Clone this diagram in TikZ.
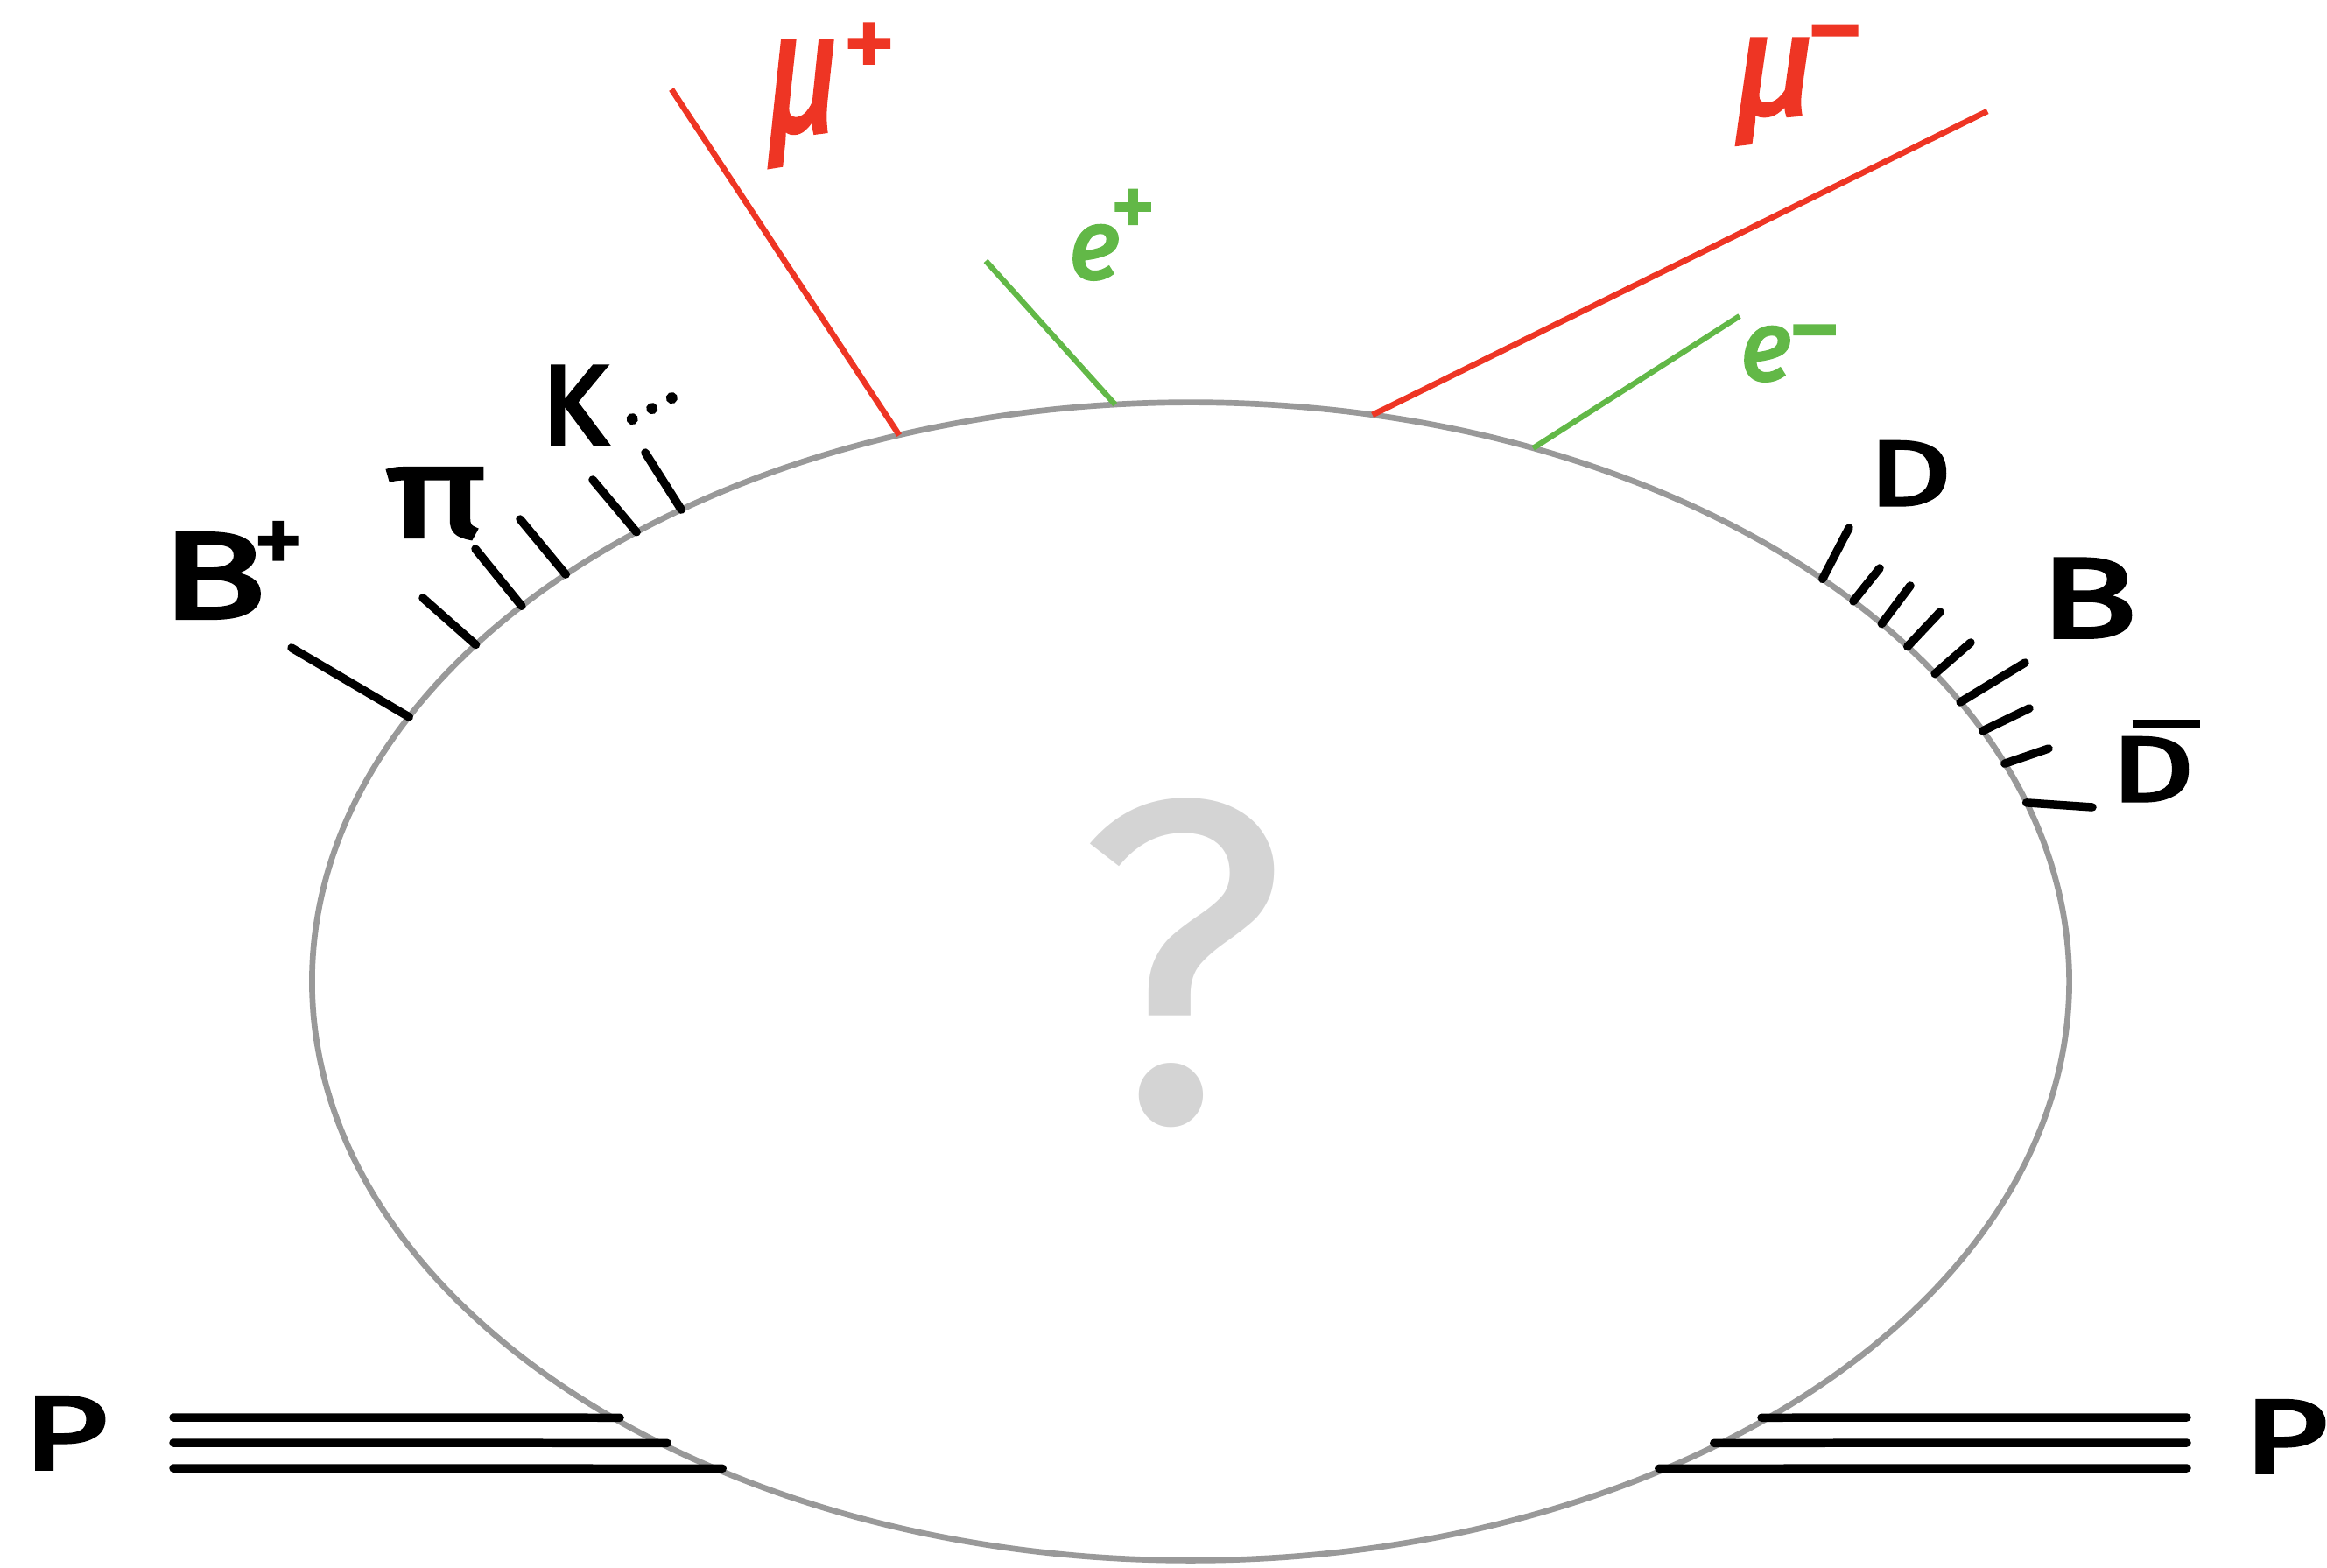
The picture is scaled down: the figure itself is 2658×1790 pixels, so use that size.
\documentclass[tikz,border=0pt]{standalone}
\usepackage{fontspec}
\setmainfont{Fira Sans}
\newfontfamily\handfont{Fira Sans}[FakeBold=3]
\usepackage{graphicx}
\usetikzlibrary{shapes.geometric}
\definecolor{rim}{HTML}{999999}
\definecolor{mured}{HTML}{EE3524}
\definecolor{egreen}{HTML}{62B847}
\definecolor{qgray}{HTML}{D4D4D4}
\newcommand\fsz[1]{\fontsize{#1}{#1}\selectfont}
\newcommand\wideletter[1]{\scalebox{1.4}[1]{#1}}
\begin{document}
\begin{tikzpicture}[x=0.01cm,y=-0.01cm,
  lbl/.style={anchor=base west, inner sep=0pt, outer sep=0pt},
  blacktick/.style={line width=2.7pt, line cap=round, black},
  beam/.style={line width=2.7pt, line cap=round, black, shorten >=-0.08cm},
  redtrack/.style={line width=1.9pt, mured},
  greentrack/.style={line width=1.8pt, egreen},
  blobstyle/.style={ellipse, draw=rim, line width=1.9pt, minimum width=20.06cm,
    minimum height=13.22cm, inner sep=0pt, outer sep=0pt}]
\useasboundingbox (0,0) rectangle (2658,1790);

% central blob
\node[blobstyle] (blob) at (1360,1121) {};
\node[text=qgray, font=\fsz{150}] (qmark) at (1351,1100) {?};

% proton beams
\coordinate (pl1) at (198,1619);
\coordinate (pl2) at (198,1648);
\coordinate (pl3) at (198,1677);
\coordinate (pr1) at (2498,1619);
\coordinate (pr2) at (2498,1648);
\coordinate (pr3) at (2498,1677);
\draw[beam] (pl1) -- ([shift={(blob.center)}]228.88:10.03cm and 6.61cm);
\draw[beam] (pl2) -- ([shift={(blob.center)}]232.87:10.03cm and 6.61cm);
\draw[beam] (pl3) -- ([shift={(blob.center)}]237.26:10.03cm and 6.61cm);
\draw[beam] (pr1) -- ([shift={(blob.center)}]311.12:10.03cm and 6.61cm);
\draw[beam] (pr2) -- ([shift={(blob.center)}]307.13:10.03cm and 6.61cm);
\draw[beam] (pr3) -- ([shift={(blob.center)}]302.74:10.03cm and 6.61cm);
\node[lbl, font=\handfont\fsz{34}] (pleft) at (26,1678) {\wideletter{P}};
\node[lbl, font=\handfont\fsz{34}] (pright) at (2562,1682) {\wideletter{P}};

% left hadron ticks
\coordinate (lt1) at (333,740);
\coordinate (lt2) at (483,683);
\coordinate (lt3) at (543,627);
\coordinate (lt4) at (594,593);
\coordinate (lt5) at (677,548);
\coordinate (lt6) at (737,517);
\draw[blacktick] ([shift={(blob.center)}]152.82:10.03cm and 6.61cm) -- (lt1);
\draw[blacktick] ([shift={(blob.center)}]144.45:10.03cm and 6.61cm) -- (lt2);
\draw[blacktick] ([shift={(blob.center)}]139.59:10.03cm and 6.61cm) -- (lt3);
\draw[blacktick] ([shift={(blob.center)}]135.34:10.03cm and 6.61cm) -- (lt4);
\draw[blacktick] ([shift={(blob.center)}]129.10:10.03cm and 6.61cm) -- (lt5);
\draw[blacktick] ([shift={(blob.center)}]125.43:10.03cm and 6.61cm) -- (lt6);

% right hadron ticks
\coordinate (rt1) at (2112,603);
\coordinate (rt2) at (2147,649);
\coordinate (rt3) at (2182,669);
\coordinate (rt4) at (2216,699);
\coordinate (rt5) at (2251,734);
\coordinate (rt6) at (2313,757);
\coordinate (rt7) at (2318,809);
\coordinate (rt8) at (2340,855);
\coordinate (rt9) at (2390,922);
\draw[blacktick] ([shift={(blob.center)}]44.02:10.03cm and 6.61cm) -- (rt1);
\draw[blacktick] ([shift={(blob.center)}]41.04:10.03cm and 6.61cm) -- (rt2);
\draw[blacktick] ([shift={(blob.center)}]38.14:10.03cm and 6.61cm) -- (rt3);
\draw[blacktick] ([shift={(blob.center)}]35.33:10.03cm and 6.61cm) -- (rt4);
\draw[blacktick] ([shift={(blob.center)}]32.10:10.03cm and 6.61cm) -- (rt5);
\draw[blacktick] ([shift={(blob.center)}]28.84:10.03cm and 6.61cm) -- (rt6);
\draw[blacktick] ([shift={(blob.center)}]25.64:10.03cm and 6.61cm) -- (rt7);
\draw[blacktick] ([shift={(blob.center)}]22.10:10.03cm and 6.61cm) -- (rt8);
\draw[blacktick] ([shift={(blob.center)}]17.98:10.03cm and 6.61cm) -- (rt9);

% lepton tracks
\coordinate (mupend) at (767,102);
\coordinate (epend) at (1126,298);
\coordinate (mumend) at (2270,127);
\coordinate (emend) at (1987,361);
\draw[redtrack] ([shift={(blob.center)}]109.37:10.03cm and 6.61cm) -- (mupend);
\draw[greentrack] ([shift={(blob.center)}]94.93:10.03cm and 6.61cm) -- (epend);
\draw[redtrack] ([shift={(blob.center)}]78.06:10.03cm and 6.61cm) -- (mumend);
\draw[greentrack] ([shift={(blob.center)}]67.06:10.03cm and 6.61cm) -- (emend);

% labels
\node[lbl, font=\handfont\fsz{40}] (lbBp) at (184,706)
  {\wideletter{B}\kern-4pt\raisebox{14.5pt}{\fsz{32}+}};
\node[lbl, font=\handfont\fsz{42}] (lbpi) at (441,613) {\scalebox{1.3}[1]{π}};
\node[lbl, font=\handfont\fsz{37}] (lbK) at (618,508)
  {K\kern4.8pt\raisebox{6pt}{\rotatebox{28}{\fsz{22}.\kern2pt.\kern2pt.}}};
\node[lbl, font=\handfont\fsz{55}\itshape, text=mured] (lbmup) at (875,149)
  {\scalebox{0.75}[1]{μ}\kern1pt\raisebox{17pt}[0pt][0pt]{\upshape\fsz{34}+}};
\node[lbl, font=\handfont\fsz{32}\itshape, text=egreen] (lbep) at (1221,318)
  {e\kern-3pt\raisebox{13.6pt}{\upshape\fsz{29}+}};
\node[lbl, font=\handfont\fsz{46}\itshape, text=mured] (lbmum) at (1980,130)
  {μ\kern-3pt\raisebox{14.8pt}[0pt][0pt]{\upshape\fsz{37}−}};
\node[lbl, font=\handfont\fsz{32}\itshape, text=egreen] (lbem) at (1988,434)
  {e\kern-1pt\raisebox{5pt}[0pt][0pt]{\upshape\fsz{34}−}};
\node[lbl, font=\handfont\fsz{30}] (lbD) at (2134,577) {\wideletter{D}};
\node[lbl, font=\handfont\fsz{37}] (lbB) at (2330,728) {\wideletter{B}};
\node[lbl, font=\handfont\fsz{30}] (lbDbar) at (2411,915)
  {\vbox{\offinterlineskip\hbox{\kern7pt\rule{22pt}{3pt}}\kern2.8pt\hbox{\wideletter{D}}}};
\end{tikzpicture}
\end{document}
